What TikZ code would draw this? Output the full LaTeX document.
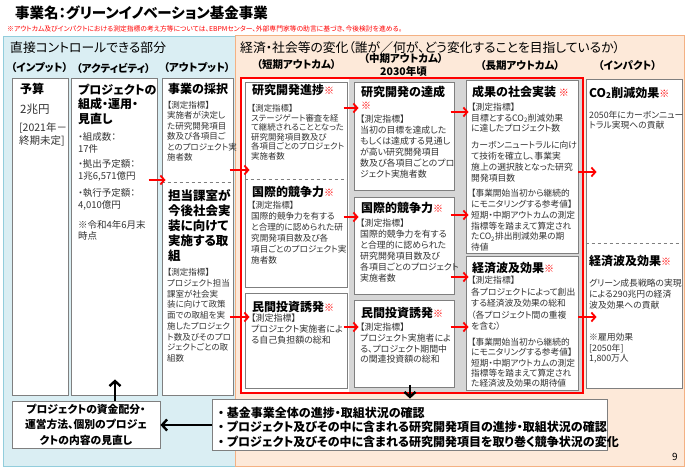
\documentclass[tikz,border=0pt]{standalone}
\usepackage{fontspec}
\setmainfont{Noto Sans CJK JP}[RawFeature=+palt]
\usetikzlibrary{arrows.meta,fit}
\definecolor{bluefill}{HTML}{DAEEF3}
\definecolor{blueline}{HTML}{92CDDC}
\definecolor{peachfill}{HTML}{FDE9D9}
\definecolor{peachline}{HTML}{F4B183}
\definecolor{boxline}{HTML}{7F7F7F}
\definecolor{txt}{HTML}{333333}
\definecolor{grayback}{HTML}{D6D6D6}
\newcommand\kome{{\color{red}\mdseries\fontsize{10}{12}\selectfont ※}}
\begin{document}
\begin{tikzpicture}[x=1pt,y=-1pt,
  bx/.style={draw=boxline, line width=0.9pt, fill=white, inner sep=0pt},
  tl/.style={anchor=north west, inner sep=0pt, align=left, text=black, font=\fontsize{12}{15}\selectfont\bfseries},
  bd/.style={anchor=north west, inner sep=0pt, align=left, text=txt},
  hd/.style={inner sep=0pt, font=\fontsize{10.5}{12}\selectfont\bfseries, text=black},
  rar/.style={draw=red, line width=1.8pt, -{Straight Barb[length=4pt,width=9pt]}},
  kar/.style={draw=black, line width=2.4pt, -{Straight Barb[length=5pt,width=11pt]}},
  dsh/.style={draw=boxline, dashed, line width=0.6pt}]
\useasboundingbox (0,0) rectangle (688,470);
\fill[white] (0,0) rectangle (688,470);

% title
\node[anchor=west, inner sep=0pt, font=\fontsize{14.5}{16}\selectfont\bfseries] (title) at (15,13) {事業名：グリーンイノベーション基金事業};
\node[anchor=west, inner sep=0pt, text=red, font=\fontsize{6.8}{8}\selectfont] (note) at (7,29) {※アウトカム及びインパクトにおける測定指標の考え方等については、EBPMセンター、外部専門家等の助言に基づき、今後検討を進める。};

% panels
\path[draw=blueline, fill=bluefill, line width=0.8pt] (3,36) rectangle (235,466);
\path[draw=peachline, fill=peachfill, line width=1pt] (235,36) rectangle (684,466);
\node[anchor=west, inner sep=0pt, font=\fontsize{12.8}{14}\selectfont] (hl) at (10,48) {直接コントロールできる部分};
\node[anchor=west, inner sep=0pt, font=\fontsize{12.8}{14}\selectfont] (hr) at (240,48) {経済・社会等の変化（誰が／何が、どう変化することを目指しているか）};

% column headers
\node[hd] (c1) at (39.5,68) {（インプット）};
\node[hd] (c2) at (113.5,68) {（アクティビティ）};
\node[hd] (c3) at (197,68) {（アウトプット）};
\node[hd] (c4) at (296.5,65) {（短期アウトカム）};
\node[hd] (c5) at (403.5,59) {（中期アウトカム）};
\node[hd] (c5b) at (403.5,71) {2030年頃};
\node[hd] (c6) at (520,66) {（長期アウトカム）};
\node[hd] (c7) at (627.5,66) {（インパクト）};

% red frame and gray background
\node[fit={(241,78)(583,393)}, draw=red, line width=1.6pt, fill=white, inner sep=0pt] (frame) {};
\fill[grayback] (348.5,79.5) rectangle (581.5,391.5);

% boxes
\node[bx, fit={(12,78)(68,395)}] (inp) {};
\node[bx, fit={(71,78)(157,395)}] (act) {};
\node[bx, fit={(162,78)(233,395)}] (out) {};
\node[bx, fit={(245,82)(347,287)}] (s1) {};
\node[bx, fit={(245,293)(347,388)}] (s2) {};
\node[bx, fit={(354,82)(454,190)}] (m1) {};
\node[bx, fit={(354,197)(454,294)}] (m2) {};
\node[bx, fit={(354,300)(454,387)}] (m3) {};
\node[bx, fit={(466,80)(578,253)}] (l1) {};
\node[bx, fit={(466,256)(578,390)}] (l2) {};
\node[bx, fit={(586,79)(682,388)}] (imp) {};
\node[bx, fit={(12,401)(160,448)}] (rev) {};
\node[bx, fit={(212,399)(607,450)}] (bul) {};

% dashed dividers
\coordinate (yD1) at (0,182);
\coordinate (yD2) at (0,179);
\coordinate (yD3) at (0,243.5);
\draw[dsh] (out.west |- yD1) -- (out.east |- yD1);
\draw[dsh] (s1.west |- yD2) -- (s1.east |- yD2);
\draw[dsh] (imp.west |- yD3) -- (imp.east |- yD3);

% input
\node[tl] (t1) at (20,82.6) {予算};
\node[bd, font=\fontsize{11.5}{13}\selectfont] (t2) at (20,103.8) {2兆円};
\node[bd, font=\fontsize{10.5}{13}\selectfont] (t3) at (19,122.3) {{[}2021年－\\終期未定{]}};

% activity
\node[tl, font=\fontsize{12}{14.5}\selectfont\bfseries] (a1) at (78,83.6) {プロジェクトの\\組成・運用・\\見直し};
\node[bd, font=\fontsize{9.5}{11.5}\selectfont] (a2) at (78,132.8) {・組成数：\\17件};
\node[bd, font=\fontsize{9.5}{11.8}\selectfont] (a3) at (78,159.8) {・拠出予定額：\\1兆6,571億円};
\node[bd, font=\fontsize{9.5}{11.8}\selectfont] (a4) at (78,188.8) {・執行予定額：\\4,010億円};
\node[bd, font=\fontsize{9.5}{11.5}\selectfont] (a5) at (78,219.8) {※令和4年6月末\\時点};

% output
\node[tl] (o1) at (168,82.6) {事業の採択};
\node[bd, font=\fontsize{8.5}{10.4}\selectfont] (o2) at (167,101.2) {【測定指標】\\実施者が決定し\\た研究開発項目\\数及び各項目ご\\とのプロジェクト実\\施者数};
\node[tl, font=\fontsize{12.5}{15}\selectfont\bfseries] (o3) at (168,189.4) {担当課室が\\今後社会実\\装に向けて\\実施する取\\組};
\node[bd, font=\fontsize{8.5}{10.75}\selectfont] (o4) at (167,268.3) {【測定指標】\\プロジェクト担当\\課室が社会実\\装に向けて政策\\面での取組を実\\施したプロジェク\\ト数及びそのプロ\\ジェクトごとの取\\組数};

% short-term
\node[tl] (s1a) at (252,83.6) {研究開発進捗\kome};
\node[bd, font=\fontsize{8.4}{9.5}\selectfont] (s1b) at (251,104.5) {【測定指標】\\ステージゲート審査を経\\て継続されることとなった\\研究開発項目数及び\\各項目ごとのプロジェクト\\実施者数};
\node[tl] (s1c) at (252,185.6) {国際的競争力\kome};
\node[bd, font=\fontsize{8.6}{11}\selectfont] (s1d) at (251,201.2) {【測定指標】\\国際的競争力を有する\\と合理的に認められた研\\究開発項目数及び各\\項目ごとのプロジェクト実\\施者数};
\node[tl] (s2a) at (252,300.6) {民間投資誘発\kome};
\node[bd, font=\fontsize{9}{11}\selectfont] (s2b) at (251,314) {【測定指標】\\プロジェクト実施者によ\\る自己負担額の総和};

% mid-term
\node[tl, font=\fontsize{12}{13}\selectfont\bfseries] (m1a) at (361,85.6) {研究開発の達成\\\kome};
\node[bd, font=\fontsize{8.9}{11}\selectfont] (m1b) at (360,114.4) {【測定指標】\\当初の目標を達成した\\もしくは達成する見通し\\が高い研究開発項目\\数及び各項目ごとのプロ\\ジェクト実施者数};
\node[tl] (m2a) at (361,201.6) {国際的競争力\kome};
\node[bd, font=\fontsize{8.9}{11}\selectfont] (m2b) at (360,219.1) {【測定指標】\\国際的競争力を有する\\と合理的に認められた\\研究開発項目数及び\\各項目ごとのプロジェクト\\実施者数};
\node[tl] (m3a) at (361,306.6) {民間投資誘発\kome};
\node[bd, font=\fontsize{8.9}{10.7}\selectfont] (m3b) at (360,323.1) {【測定指標】\\プロジェクト実施者によ\\る、プロジェクト期間中\\の関連投資額の総和};

% long-term
\node[tl] (l1a) at (472,85.6) {成果の社会実装~\kome};
\node[bd, font=\fontsize{8.8}{10.5}\selectfont] (l1b) at (471,103.1) {【測定指標】\\目標とするCO\textsubscript{2}削減効果\\に達したプロジェクト数};
\node[bd, font=\fontsize{8.8}{10.8}\selectfont] (l1c) at (471,141.1) {カーボンニュートラルに向け\\て技術を確立し、事業実\\施上の選択肢となった研究\\開発項目数};
\node[bd, font=\fontsize{8.7}{10.8}\selectfont] (l1d) at (471,189.1) {【事業開始当初から継続的\\にモニタリングする参考値】\\短期・中期アウトカムの測定\\指標等を踏まえて算定され\\たCO\textsubscript{2}排出削減効果の期\\待値};
\node[tl] (l2a) at (472,261.6) {経済波及効果\kome};
\node[bd, font=\fontsize{8.8}{11.5}\selectfont] (l2b) at (471,276.1) {【測定指標】\\各プロジェクトによって創出\\する経済波及効果の総和\\（各プロジェクト間の重複\\を含む）};
\node[bd, font=\fontsize{8.7}{10.3}\selectfont] (l2c) at (471,338.1) {【事業開始当初から継続的\\にモニタリングする参考値】\\短期・中期アウトカムの測定\\指標等を踏まえて算定され\\た経済波及効果の期待値};

% impact
\node[tl] (i1) at (589,86.6) {CO\textsubscript{2}削減効果\kome};
\node[bd, font=\fontsize{8.8}{10}\selectfont] (i2) at (589,111.1) {2050年にカーボンニュー\\トラル実現への貢献};
\node[tl] (i3) at (589,254.6) {経済波及効果\kome};
\node[bd, font=\fontsize{8.8}{11}\selectfont] (i4) at (589,279.1) {グリーン成長戦略の実現\\による290兆円の経済\\波及効果への貢献};
\node[bd, font=\fontsize{8.8}{10.5}\selectfont] (i5) at (589,333.1) {※雇用効果\\{[}2050年{]}\\1,800万人};

% bottom boxes text
\node[inner sep=0pt, align=center, font=\fontsize{10.8}{15.5}\selectfont\bfseries] (revt) at (rev.center) {プロジェクトの資金配分・\\運営方法、個別のプロジェ\\クトの内容の見直し};
\node[anchor=north west, inner sep=0pt, align=left, font=\fontsize{12}{14.5}\selectfont\bfseries] (bult) at (218,406.5) {・~基金事業全体の進捗・取組状況の確認\\・~プロジェクト及びその中に含まれる研究開発項目の進捗・取組状況の確認\\・~プロジェクト及びその中に含まれる研究開発項目を取り巻く競争状況の変化};

\node[inner sep=0pt, font=\fontsize{10}{12}\selectfont] (pg) at (675,457) {9};

% red arrows
\coordinate (yAO) at (0,180);
\coordinate (yOS1) at (0,170);
\coordinate (yOS2) at (0,317);
\coordinate (ySM1) at (0,108);
\coordinate (ySM2) at (0,217);
\coordinate (ySM3) at (0,327);
\coordinate (yML1) at (0,112);
\coordinate (yML2) at (0,215);
\coordinate (yML3) at (0,277);
\coordinate (yML4) at (0,327);
\coordinate (yLI1) at (0,172);
\coordinate (yLI2) at (0,317);
\draw[rar] ([xshift=-13pt]out.west |- yAO) -- ([xshift=4pt]out.west |- yAO);
\draw[rar] ([xshift=-15pt]s1.west |- yOS1) -- ([xshift=5pt]s1.west |- yOS1);
\draw[rar] ([xshift=-15pt]s2.west |- yOS2) -- ([xshift=5pt]s2.west |- yOS2);
\draw[rar] ([xshift=-10pt]m1.west |- ySM1) -- ([xshift=5pt]m1.west |- ySM1);
\draw[rar] ([xshift=-10pt]m2.west |- ySM2) -- ([xshift=5pt]m2.west |- ySM2);
\draw[rar] ([xshift=-10pt]m3.west |- ySM3) -- ([xshift=5pt]m3.west |- ySM3);
\draw[rar] ([xshift=-15pt]l1.west |- yML1) -- ([xshift=3pt]l1.west |- yML1);
\draw[rar] ([xshift=-15pt]l1.west |- yML2) -- ([xshift=3pt]l1.west |- yML2);
\draw[rar] ([xshift=-15pt]l2.west |- yML3) -- ([xshift=3pt]l2.west |- yML3);
\draw[rar] ([xshift=-15pt]l2.west |- yML4) -- ([xshift=3pt]l2.west |- yML4);
\draw[rar] (l1.east |- yLI1) -- ([xshift=11pt]imp.west |- yLI1);
\draw[rar] (l2.east |- yLI2) -- ([xshift=11pt]imp.west |- yLI2);

% black arrows
\coordinate (xDown) at (410,0);
\coordinate (xUp) at (115,0);
\coordinate (yLeft) at (0,425);
\draw[kar] ([yshift=9pt]xDown |- frame.south) -- (xDown |- bul.north);
\draw[kar] (bul.west |- yLeft) -- (rev.east |- yLeft);
\draw[kar] (rev.north -| xUp) -- ([yshift=16pt]act.south -| xUp);
\end{tikzpicture}
\end{document}
